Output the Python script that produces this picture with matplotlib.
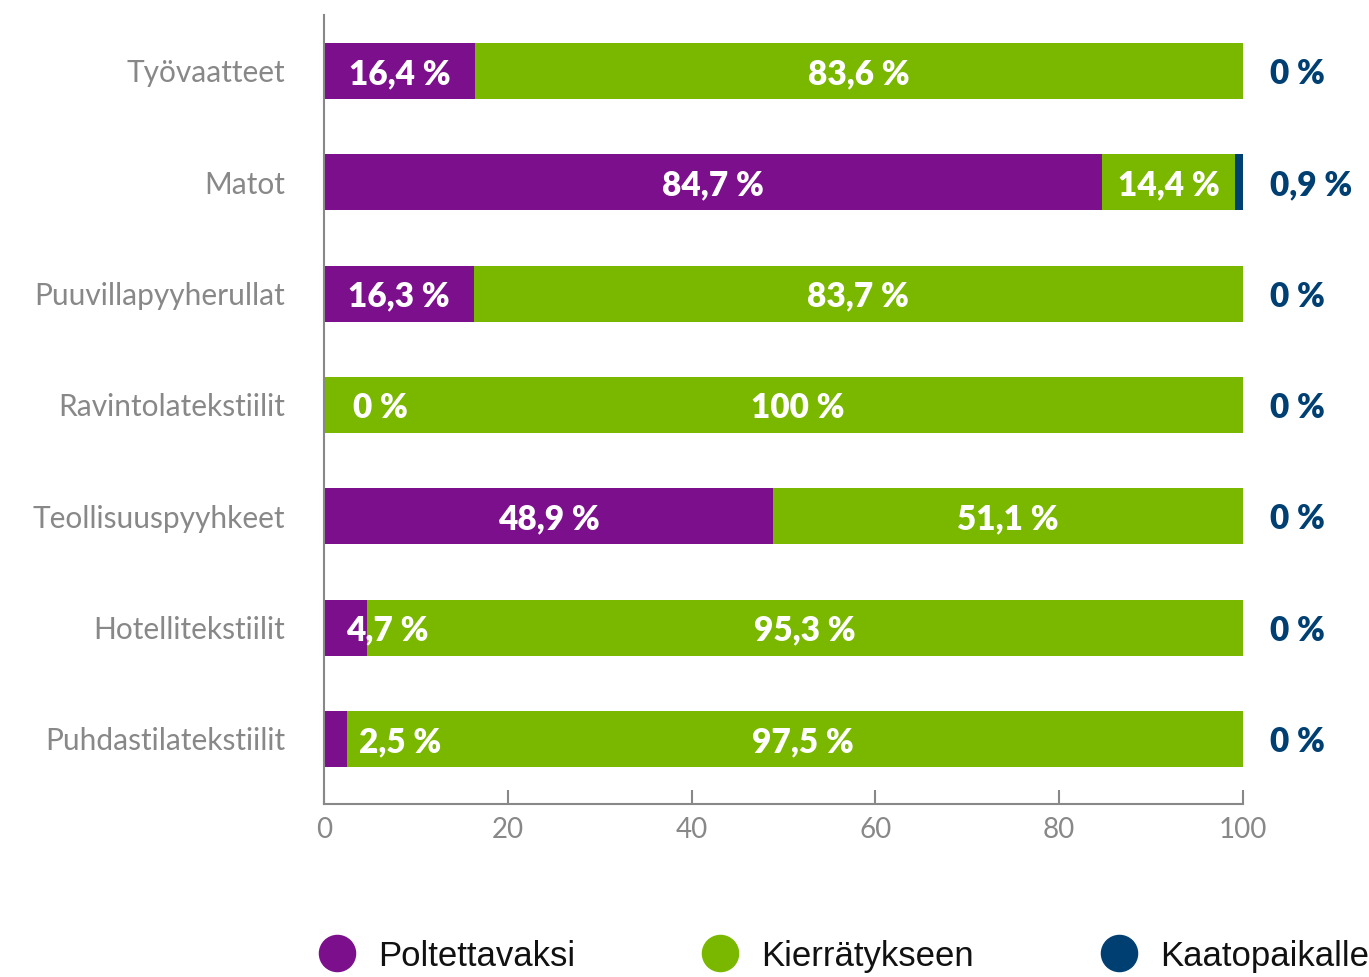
import matplotlib
matplotlib.use("Agg")
import matplotlib.pyplot as plt
from matplotlib.lines import Line2D
import numpy as np

categories = ["Työvaatteet", "Matot", "Puuvillapyyherullat", "Ravintolatekstiilit",
              "Teollisuuspyyhkeet", "Hotellitekstiilit", "Puhdastilatekstiilit"]
poltettavaksi = [16.4, 84.7, 16.3, 0.0, 48.9, 4.7, 2.5]
kierratykseen = [83.6, 14.4, 83.7, 100.0, 51.1, 95.3, 97.5]
kaatopaikalle = [0.0, 0.9, 0.0, 0.0, 0.0, 0.0, 0.0]
series_names = ["Poltettavaksi", "Kierrätykseen", "Kaatopaikalle"]
x_ticks = [0, 20, 40, 60, 80, 100]

PURPLE = "#7b0f8c"
GREEN = "#7ab800"
BLUE = "#003f72"
GRAY = "#888888"


def fmt(v):
    s = f"{v:.1f}".replace(".", ",")
    if s.endswith(",0"):
        s = s[:-2]
    return s + " %"


fig = plt.figure(figsize=(13.69, 9.77), dpi=100)
ax = fig.add_axes([324 / 1369, 1 - 804 / 977, (1243 - 324) / 1369, (804 - 15) / 977])

y = np.arange(len(categories))
h = 0.503
pol = np.array(poltettavaksi)
kie = np.array(kierratykseen)
kaa = np.array(kaatopaikalle)

ax.barh(y, pol, height=h, color=PURPLE)
ax.barh(y, kie, left=pol, height=h, color=GREEN)
ax.barh(y, kaa, left=pol + kie, height=h, color=BLUE)

label_font = dict(family=["Lato", "DejaVu Sans"], fontsize=24, fontweight="heavy")
for i in range(len(categories)):
    # purple segment label, small ones spill over to the right
    if pol[i] >= 10:
        ax.text(pol[i] / 2, y[i], fmt(pol[i]), ha="center", va="center_baseline",
                color="white", **label_font)
    else:
        if pol[i] >= 4:
            start = pol[i] / 2
        elif pol[i] > 0:
            start = pol[i] + 1.3
        else:
            start = 3.2
        ax.text(start, y[i], fmt(pol[i]), ha="left", va="center_baseline",
                color="white", **label_font)
    # green segment label
    gx = pol[i] + kie[i] / 2
    if pol[i] < 3:
        gx += 0.85 if pol[i] > 0 else 1.6
    ax.text(gx, y[i], fmt(kie[i]), ha="center", va="center_baseline",
            color="white", **label_font)
    # landfill label outside the bar
    ax.text(102.9, y[i], fmt(kaa[i]), ha="left", va="center_baseline",
            color=BLUE, **label_font)

ax.set_xlim(0, 100)
ax.set_ylim(6.584, -0.503)
ax.set_yticks(y)
ax.set_yticklabels(categories, family=["Lato", "DejaVu Sans"], fontsize=21.5, color=GRAY)
ax.tick_params(axis="y", length=0, pad=28)
ax.set_xticks(x_ticks)
ax.set_xticklabels([str(t) for t in x_ticks], family=["Lato", "DejaVu Sans"],
                   fontsize=20, color=GRAY)
ax.tick_params(axis="x", direction="in", length=10, width=1.5, color=GRAY, pad=9)

for s in ["top", "right"]:
    ax.spines[s].set_visible(False)
for s in ["left", "bottom"]:
    ax.spines[s].set_color(GRAY)
    ax.spines[s].set_linewidth(1.5)

# legend drawn by hand so the entries sit where the reference has them
leg_y = 1 - 953 / 977
marker_x = [337, 720, 1119]
for name, c, mx in zip(series_names, [PURPLE, GREEN, BLUE], marker_x):
    fig.add_artist(Line2D([mx / 1369], [leg_y], marker="o", linestyle="",
                          markersize=26, markerfacecolor=c, markeredgecolor=c,
                          transform=fig.transFigure))
    fig.text((mx + 41) / 1369, leg_y, name, ha="left", va="center_baseline",
             color="#111111", family=["Liberation Sans", "DejaVu Sans"], fontsize=25)

fig.savefig("out.png", dpi=100)
